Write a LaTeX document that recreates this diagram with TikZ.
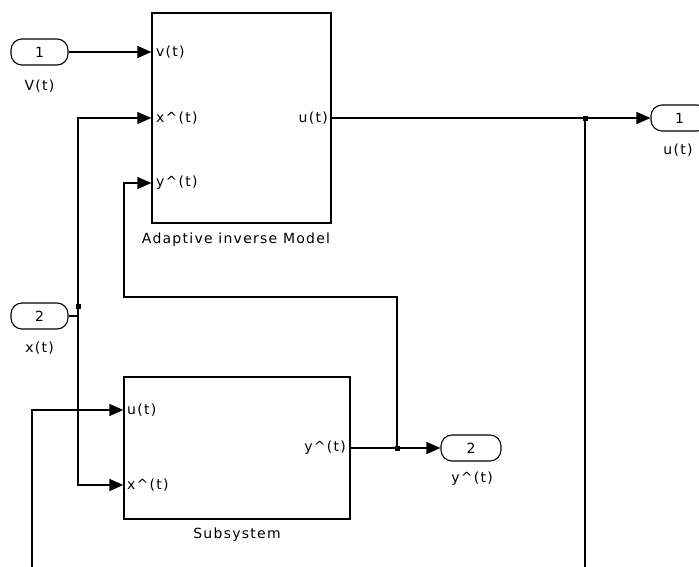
\documentclass[tikz,border=0pt]{standalone}
\usepackage{fontspec}
\setmainfont{DejaVu Sans}[LetterSpace=9]
\usetikzlibrary{arrows.meta}

\begin{document}
\begin{tikzpicture}[x=1pt,y=-1pt,>={Triangle[length=14pt,width=12pt]},
  blk/.style={draw,line width=1.3pt,inner sep=0pt},
  port/.style={draw,line width=1.1pt,rounded corners=11pt,minimum width=57pt,minimum height=26pt,inner sep=0pt,font=\fontsize{14}{15}\selectfont},
  lbl/.style={inner sep=0pt,font=\fontsize{14}{15}\selectfont},
  wire/.style={line width=1.3pt},
  dot/.style={fill,inner sep=0pt,minimum size=5pt}]
  \clip (0,0) rectangle (699,566);
  \node[blk,minimum width=179pt,minimum height=210pt] (aim) at (241.5,118) {};
  \node[blk,minimum width=226pt,minimum height=142pt] (sub) at (237,448) {};
  \node[lbl] (aimname) at (236,240) {Adaptive inverse Model};
  \node[lbl] (subname) at (237,535) {Subsystem};
  \node[lbl,anchor=west] (aimv) at (156,52) {v(t)};
  \node[lbl,anchor=west] (aimx) at (156,118) {x\textasciicircum(t)};
  \node[lbl,anchor=west] (aimy) at (156,183) {y\textasciicircum(t)};
  \node[lbl,anchor=east] (aimu) at (328,118) {u(t)};
  \node[lbl,anchor=west] (subu) at (127,410) {u(t)};
  \node[lbl,anchor=west] (subx) at (127,485) {x\textasciicircum(t)};
  \node[lbl,anchor=east] (suby) at (346,448) {y\textasciicircum(t)};

  \node[port] (in1) at (39.5,52) {1};
  \node[lbl] (in1name) at (39.5,86) {V(t)};
  \node[port] (in2) at (39.5,316) {2};
  \node[lbl] (in2name) at (39.5,348) {x(t)};
  \node[port] (out1) at (679.5,118) {1};
  \node[lbl] (out1name) at (678,150) {u(t)};
  \node[port,minimum width=60pt] (out2) at (471,448) {2};
  \node[lbl] (out2name) at (472,479) {y\textasciicircum(t)};

  \coordinate (j1) at (585,118);
  \coordinate (j2) at (78,306);
  \coordinate (j3) at (397,448);
  \coordinate (e1) at (585,570);
  \coordinate (e2) at (32,570);
  \coordinate (k1) at (397,297);
  \coordinate (k2) at (124,297);

  \draw[wire,->] (in1.east) -- (in1.east -| aim.west);
  \draw[wire,->] (aim.east |- aimu) -- (out1.west);
  \draw[wire] (j1) -- (e1);
  \draw[wire] (in2.east) -- (in2.east -| j2);
  \draw[wire,->] (j2) |- (aim.west |- aimx);
  \draw[wire,->] (j2) |- (sub.west |- subx);
  \draw[wire,->] (e2) |- (sub.west |- subu);
  \draw[wire,->] (sub.east |- suby) -- (out2.west);
  \draw[wire,->] (j3) -- (k1) -- (k2) |- (aim.west |- aimy);
  \foreach \j in {j1,j2,j3}
    \node[dot] at (\j) {};
\end{tikzpicture}
\end{document}
